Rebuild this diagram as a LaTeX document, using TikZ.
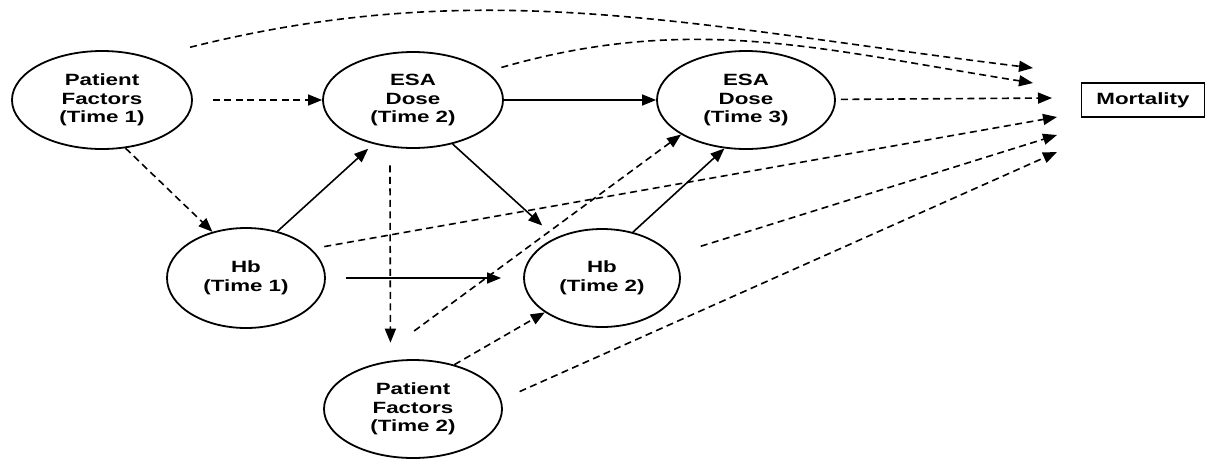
\documentclass[tikz,border=0pt]{standalone}
\usepackage{fontspec}
\newfontfamily\diagfont{Liberation Sans}[FakeStretch=1.37]
\usetikzlibrary{shapes,arrows.meta,positioning}

\tikzset{
  var/.style={ellipse, draw, line width=1.8pt, inner sep=0pt, align=center,
    font=\diagfont\bfseries\fontsize{16.3}{18.5}\selectfont},
  outcome/.style={rectangle, draw, line width=1.6pt, minimum width=123pt, minimum height=34pt,
    font=\diagfont\bfseries\fontsize{16.3}{18.5}\selectfont},
  link/.style={-{Triangle[length=14pt,width=11pt]}, line width=1.6pt},
  dlink/.style={link, dash pattern=on 7pt off 4.5pt}
}

\begin{document}
\begin{tikzpicture}[x=1pt, y=-1pt, on grid]
            \useasboundingbox (0,0) rectangle (1207,459);
            \node[var, minimum width=180pt, minimum height=98pt] (pf1) at (102,100) {Patient\\Factors\\(Time 1)};
            \node[var, minimum width=180pt, minimum height=96pt] (esa2) [right=311pt of pf1] {ESA\\Dose\\(Time 2)};
            \node[var, minimum width=178pt, minimum height=98pt] (esa3) [right=333pt of esa2] {ESA\\Dose\\(Time 3)};
            \node[var, minimum width=158pt, minimum height=100pt] (hb1) [below right=178pt and 144pt of pf1] {Hb\\(Time 1)};
            \node[var, minimum width=156pt, minimum height=98pt] (hb2) [right=356pt of hb1] {Hb\\(Time 2)};
            \node[var, minimum width=178pt, minimum height=98pt] (pf2) [below=309pt of esa2] {Patient\\Factors\\(Time 2)};
            \node[outcome] (mort) [right=397pt of esa3] {Mortality};
            % arrow ends in front of the outcome box
            \coordinate (m1) at (1033,68);
            \coordinate (m2) at (1033,83);
            \coordinate (m3) at (1052,98);
            \coordinate (m4) at (1057,117);
            \coordinate (m5) at (1057,135);
            \coordinate (m6) at (1057,152);

            \draw[dlink, shorten <=20pt] (pf1) -- (esa2);
            \draw[dlink] (pf1.296) -- (hb1.126);
            \draw[link, shorten >=7pt] (hb1.56) -- (esa2.228);
            \draw[link] (esa2) -- (esa3);
            \draw[link, shorten >=18pt] (esa2.-48) -- (hb2.139);
            \draw[dlink, shorten <=18pt, shorten >=18pt] (esa2.244) -- (pf2.115);
            \draw[link, shorten <=20pt, shorten >=22pt] (hb1) -- (hb2);
            \draw[dlink, shorten <=60pt] (pf2.138) -- (esa3.208);
            \draw[dlink] (pf2.47) -- (hb2.211);
            \draw[link] (hb2.56) -- (esa3.246);

            \draw[dlink, shorten <=42pt] (pf1.42) to [out=14, in=173] (m1);
            \draw[dlink, shorten <=15pt] (esa2.21) to [out=16, in=171] (m2);
            \draw[dlink, shorten <=5pt] (esa3) -- (m3);
            \draw[dlink, shorten <=13pt] (hb1.24) -- (m4);
            \draw[dlink, shorten <=30pt] (hb2.18) -- (m5);
            \draw[dlink, shorten <=20pt] (pf2.6) -- (m6);
\end{tikzpicture}
\end{document}
